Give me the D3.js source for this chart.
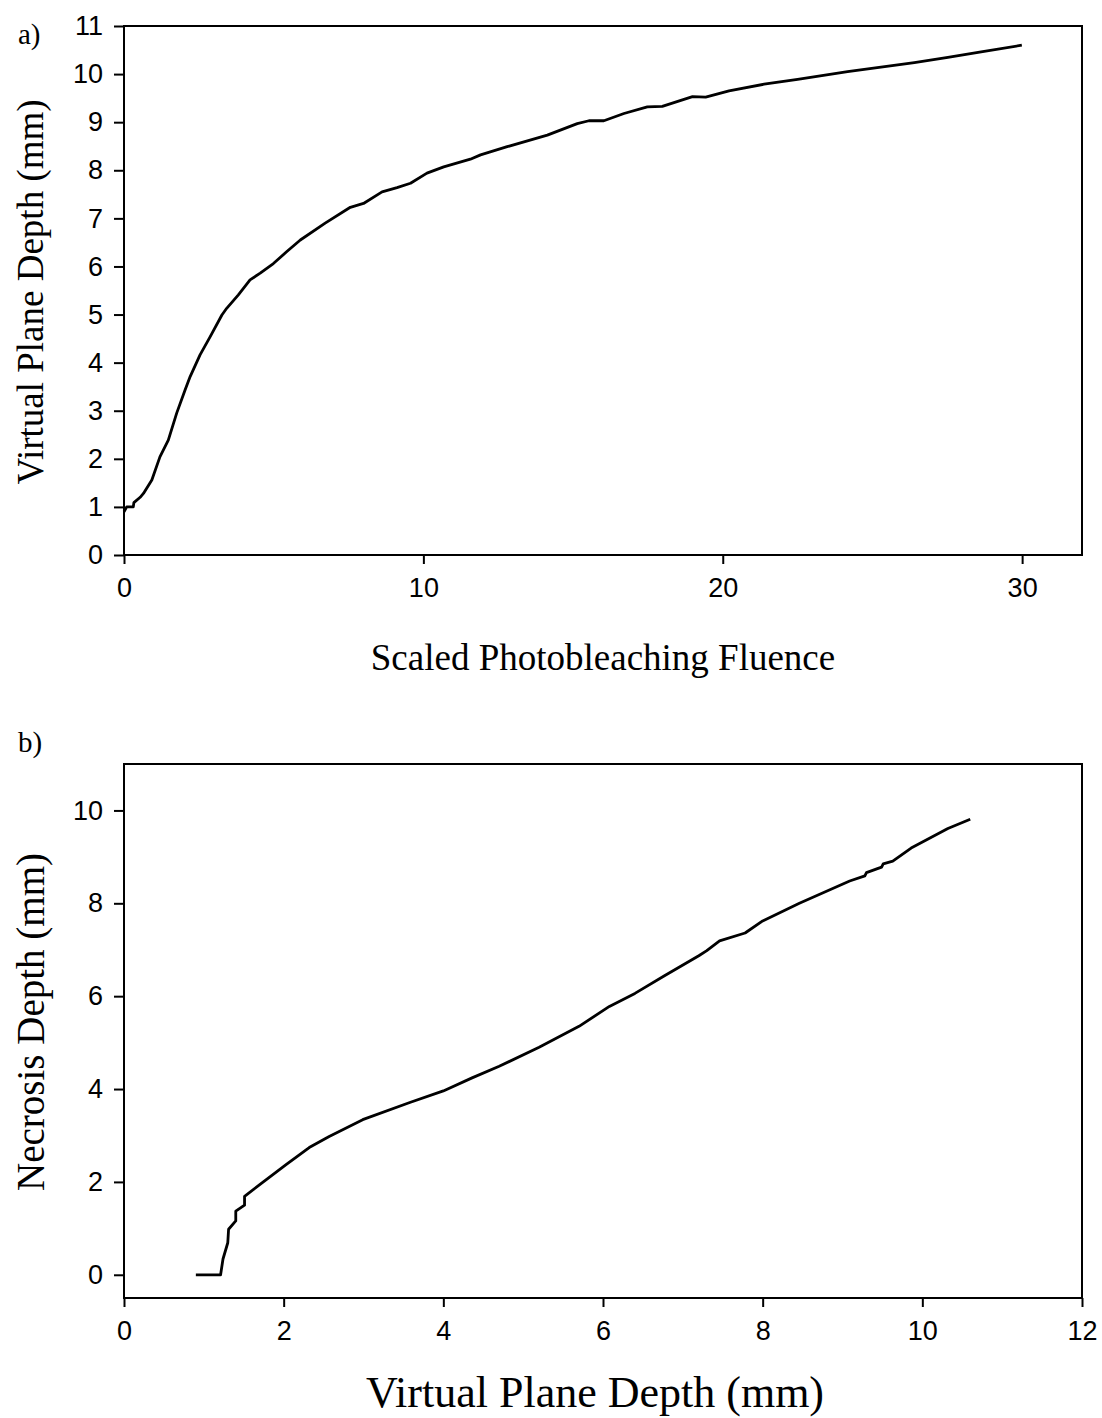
<!DOCTYPE html>
<html>
<head>
<meta charset="utf-8">
<script src="https://cdn.jsdelivr.net/npm/d3@7"></script>
<style>
  body { margin: 0; background: #fff; }
  .tick text { font-family: Arial, 'Liberation Sans', sans-serif; font-size: 27px; fill: #000; }
  .tick line { stroke: #000; stroke-width: 2px; }
  .ttl { font-family: 'Times New Roman', 'Liberation Serif', serif; fill: #000; }
</style>
</head>
<body>
<svg width="1102" height="1418"></svg>
<script>
// panel a: virtual plane depth vs scaled photobleaching fluence
let fluence = [0, 0.09, 0.31, 0.33, 0.54, 0.65, 0.93, 1.2, 1.48, 1.76, 2.04, 2.21, 2.54, 2.88, 3.27, 3.43, 3.82, 4.21, 4.55, 4.99, 5.44, 5.89, 6.72, 7.56, 8.0, 8.62, 9.12, 9.57, 10.12, 10.68, 11.57, 11.91, 12.8, 14.14, 15.14, 15.53, 16.03, 16.7, 17.48, 17.98, 18.99, 19.43, 20.21, 21.38, 22.5, 24.17, 26.4, 27.52, 28.63, 29.99]
let planeDepth = [0.9, 1.0, 1.0, 1.09, 1.2, 1.28, 1.56, 2.04, 2.39, 2.95, 3.43, 3.71, 4.16, 4.54, 4.99, 5.13, 5.41, 5.72, 5.86, 6.06, 6.31, 6.55, 6.9, 7.23, 7.31, 7.55, 7.64, 7.73, 7.94, 8.07, 8.23, 8.32, 8.49, 8.73, 8.97, 9.03, 9.03, 9.18, 9.32, 9.33, 9.53, 9.52, 9.65, 9.79, 9.89, 10.05, 10.24, 10.35, 10.46, 10.6]
let ticksA_x = [0, 10, 20, 30]
let ticksA_y = [0, 1, 2, 3, 4, 5, 6, 7, 8, 9, 10, 11]

// panel b: necrosis depth vs virtual plane depth
let vpDepth = [0.9, 1.21, 1.24, 1.3, 1.31, 1.4, 1.4, 1.51, 1.51, 1.7, 2.03, 2.32, 2.57, 2.99, 3.58, 4.0, 4.36, 4.7, 5.2, 5.7, 6.08, 6.4, 6.77, 7.2, 7.3, 7.46, 7.78, 8.0, 8.46, 9.09, 9.28, 9.3, 9.49, 9.51, 9.63, 9.86, 10.32, 10.6]
let necrosis = [0, 0, 0.34, 0.69, 0.98, 1.16, 1.37, 1.5, 1.69, 1.94, 2.37, 2.74, 2.98, 3.34, 3.71, 3.96, 4.24, 4.49, 4.9, 5.35, 5.78, 6.06, 6.44, 6.87, 6.98, 7.19, 7.36, 7.62, 8.0, 8.48, 8.59, 8.66, 8.78, 8.85, 8.91, 9.19, 9.61, 9.81]
let ticksB_x = [0, 2, 4, 6, 8, 10, 12]
let ticksB_y = [0, 2, 4, 6, 8, 10]

let svg = d3.select('svg')

let panel = (opt) => {
  let x = d3.scaleLinear().domain(opt.xDomain).range([opt.left, opt.right])
  let y = d3.scaleLinear().domain(opt.yDomain).range([opt.bottom, opt.top])
  let g = svg.append('g')

  g.append('g')
    .attr('transform', 'translate(0,' + opt.bottom + ')')
    .call(d3.axisBottom(x).tickValues(opt.xTicks).tickSize(9).tickPadding(14).tickSizeOuter(0))
    .call(a => a.select('.domain').remove())

  g.append('g')
    .attr('transform', 'translate(' + opt.left + ',0)')
    .call(d3.axisLeft(y).tickValues(opt.yTicks).tickSize(10).tickPadding(11).tickSizeOuter(0))
    .call(a => a.select('.domain').remove())

  g.append('rect')
    .attr('x', opt.left).attr('y', opt.top)
    .attr('width', opt.right - opt.left).attr('height', opt.bottom - opt.top)
    .attr('fill', 'none').attr('stroke', '#000').attr('stroke-width', 2)

  let line = d3.line().x(d => x(d[0])).y(d => y(d[1]))
  g.append('path')
    .datum(d3.zip(opt.xs, opt.ys))
    .attr('d', line)
    .attr('fill', 'none').attr('stroke', '#000').attr('stroke-width', 2.8)
    .attr('stroke-linejoin', 'round')

  g.append('text').attr('class', 'ttl')
    .attr('x', 18).attr('y', opt.top + opt.labelDy)
    .style('font-size', '29px')
    .text(opt.label)

  g.append('text').attr('class', 'ttl')
    .attr('text-anchor', 'middle')
    .attr('x', (opt.left + opt.right) / 2 + opt.xTitleDx).attr('y', opt.xTitleY)
    .style('font-size', opt.xTitleSize + 'px')
    .text(opt.xTitle)

  g.append('text').attr('class', 'ttl')
    .attr('text-anchor', 'middle')
    .attr('transform', 'translate(' + opt.yTitleX + ',' + opt.yTitleY + ') rotate(-90)')
    .style('font-size', opt.yTitleSize + 'px')
    .text(opt.yTitle)
}

panel({
  left: 124, right: 1082, top: 26, bottom: 555,
  xDomain: [0, 32], yDomain: [0, 11],
  xTicks: ticksA_x, yTicks: ticksA_y,
  xs: fluence, ys: planeDepth,
  label: 'a)', labelDy: 18,
  xTitle: 'Scaled Photobleaching Fluence', xTitleY: 670, xTitleDx: 0, xTitleSize: 37,
  yTitle: 'Virtual Plane Depth (mm)', yTitleX: 43, yTitleY: 292, yTitleSize: 37
})

panel({
  left: 124, right: 1082, top: 764, bottom: 1298,
  xDomain: [0, 12], yDomain: [-0.5, 11],
  xTicks: ticksB_x, yTicks: ticksB_y,
  xs: vpDepth, ys: necrosis,
  label: 'b)', labelDy: -12,
  xTitle: 'Virtual Plane Depth (mm)', xTitleY: 1407, xTitleDx: -8, xTitleSize: 44,
  yTitle: 'Necrosis Depth (mm)', yTitleX: 44, yTitleY: 1022, yTitleSize: 39
})
</script>
</body>
</html>
